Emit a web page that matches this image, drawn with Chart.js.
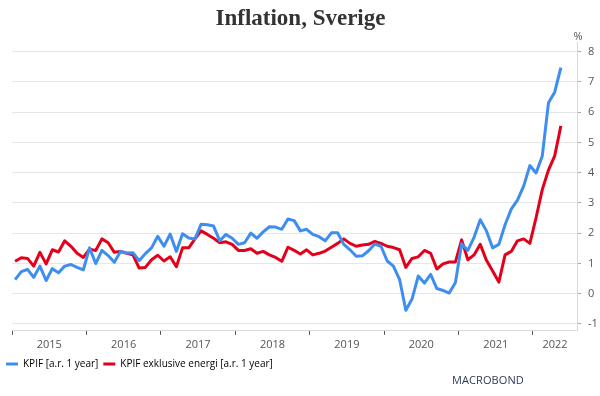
<!DOCTYPE html>
<html>
<head>
<meta charset="utf-8">
<script src="https://cdn.jsdelivr.net/npm/chart.js@4.4.1/dist/chart.umd.min.js"></script>
<style>
  html, body { margin: 0; padding: 0; background: #fff; }
  #wrap { width: 600px; height: 396px; }
</style>
</head>
<body>
<div id="wrap"><canvas id="chart" width="600" height="396"></canvas></div>
<script>
// monthly, Jan 2015 .. May 2022
const years = ['2015', '2016', '2017', '2018', '2019', '2020', '2021', '2022'];
const yTicks = [-1, 0, 1, 2, 3, 4, 5, 6, 7, 8];

const kpif = [
  0.6, 0.85, 0.92, 0.67, 1.02, 0.57, 0.94, 0.81, 1.02, 1.07, 0.98, 0.9,
  1.59, 1.1, 1.51, 1.35, 1.14, 1.48, 1.43, 1.44, 1.19, 1.41, 1.59, 1.95,
  1.64, 2.02, 1.48, 2.03, 1.9, 1.87, 2.33, 2.31, 2.27, 1.81, 2.01, 1.89,
  1.7, 1.75, 2.05, 1.89, 2.09, 2.25, 2.24, 2.17, 2.49, 2.44, 2.12, 2.17,
  2.01, 1.94, 1.81, 2.06, 2.06, 1.7, 1.53, 1.33, 1.34, 1.5, 1.71, 1.64,
  1.18, 1.02, 0.6, -0.36, -0.01, 0.71, 0.49, 0.76, 0.32, 0.26, 0.18, 0.51,
  1.72, 1.51, 1.92, 2.47, 2.12, 1.59, 1.7, 2.31, 2.8, 3.08, 3.52, 4.16,
  3.93, 4.46, 6.12, 6.45, 7.22
];

const kpifExEnergy = [
  1.17, 1.28, 1.26, 1.02, 1.45, 1.09, 1.53, 1.46, 1.81, 1.64, 1.42, 1.29,
  1.55, 1.51, 1.87, 1.75, 1.45, 1.48, 1.42, 1.37, 0.96, 0.98, 1.22, 1.36,
  1.18, 1.31, 1.0, 1.59, 1.59, 1.87, 2.12, 2.01, 1.89, 1.75, 1.78, 1.7,
  1.51, 1.51, 1.56, 1.42, 1.48, 1.37, 1.29, 1.17, 1.61, 1.51, 1.4, 1.53,
  1.37, 1.42, 1.49, 1.61, 1.73, 1.87, 1.73, 1.64, 1.68, 1.7, 1.79, 1.73,
  1.64, 1.6, 1.53, 0.98, 1.26, 1.31, 1.51, 1.42, 0.93, 1.09, 1.15, 1.15,
  1.84, 1.22, 1.37, 1.7, 1.2, 0.87, 0.52, 1.37, 1.48, 1.81, 1.87, 1.73,
  2.53, 3.41, 4.02, 4.46, 5.4
];

const X_MAX = 91.1;
const BLUE = '#3d8ef0';
const RED = '#e4001b';

// x = months since Jan 2015, each point in the middle of its month
const toPoints = arr => arr.map((v, i) => ({ x: i + 0.5, y: v }));

const yearStarts = years.map((y, k) => k * 12);
const yearMids = years.map((y, k) => {
  const end = Math.min((k + 1) * 12, X_MAX);
  return (k * 12 + end) / 2;
});

// unit sign above the right axis + source logo text
const extras = {
  id: 'extras',
  afterDraw(chart) {
    const ctx = chart.ctx;
    const y = chart.scales.y;
    ctx.save();
    ctx.fillStyle = '#555';
    ctx.font = '11px "Open Sans", sans-serif';
    ctx.textAlign = 'center';
    ctx.textBaseline = 'middle';
    ctx.fillText('%', y.left + 1, 37);

    ctx.fillStyle = '#2c3b57';
    ctx.font = '11px "Open Sans", sans-serif';
    ctx.letterSpacing = '0.1px';
    ctx.textAlign = 'left';
    ctx.fillText('MACROBOND', 452, 381);
    ctx.restore();
  }
};

new Chart(document.getElementById('chart'), {
  type: 'line',
  data: {
    datasets: [
      {
        label: 'KPIF [a.r. 1 year]',
        data: toPoints(kpif),
        borderColor: BLUE,
        backgroundColor: BLUE,
        borderWidth: 3,
        borderJoinStyle: 'round',
        pointRadius: 0,
        tension: 0
      },
      {
        label: 'KPIF exklusive energi [a.r. 1 year]',
        data: toPoints(kpifExEnergy),
        borderColor: RED,
        backgroundColor: RED,
        borderWidth: 3,
        borderJoinStyle: 'round',
        pointRadius: 0,
        tension: 0
      }
    ]
  },
  options: {
    responsive: false,
    animation: false,
    layout: { padding: { left: 1, right: 0, top: 0, bottom: 17 } },
    plugins: {
      title: {
        display: true,
        text: 'Inflation, Sverige',
        color: '#333',
        font: { family: '"Liberation Serif", serif', size: 23, weight: 'bold' },
        padding: { top: 5, bottom: 10 }
      },
      legend: {
        position: 'bottom',
        align: 'start',
        labels: {
          boxWidth: 12,
          boxHeight: 3,
          padding: 5,
          color: '#555',
          font: { family: '"Open Sans", sans-serif', size: 10 },
          generateLabels(chart) {
            return chart.data.datasets.map((ds, i) => ({
              text: ds.label,
              fillStyle: ds.borderColor,
              strokeStyle: ds.borderColor,
              lineWidth: 0,
              hidden: false,
              datasetIndex: i
            }));
          }
        }
      },
      tooltip: { enabled: false }
    },
    scales: {
      x: {
        type: 'linear',
        min: 0,
        max: X_MAX,
        afterBuildTicks(scale) {
          const t = [];
          years.forEach((yr, k) => {
            t.push({ value: yearStarts[k] });
            t.push({ value: yearMids[k] });
          });
          scale.ticks = t;
        },
        grid: {
          drawOnChartArea: false,
          drawTicks: true,
          tickLength: 4,
          tickColor: ctx => (ctx.tick && yearStarts.includes(ctx.tick.value)) ? '#555' : 'rgba(0,0,0,0)'
        },
        border: { display: true, color: '#d9d9d9', width: 1 },
        ticks: {
          autoSkip: false,
          maxRotation: 0,
          padding: 3,
          color: '#555',
          font: { family: '"Open Sans", sans-serif', size: 11 },
          callback(value) {
            const k = yearMids.indexOf(value);
            return k >= 0 ? years[k] : '';
          }
        }
      },
      // empty spacer so the plot starts a few px right of the legend
      yL: {
        position: 'left',
        display: true,
        grid: { display: false },
        border: { display: false },
        ticks: { display: false },
        afterFit(scale) { scale.width = 11; }
      },
      y: {
        position: 'right',
        min: -1.23,
        max: 8.3,
        afterBuildTicks(scale) {
          scale.ticks = yTicks.map(v => ({ value: v }));
        },
        afterFit(scale) { scale.width = 23; },
        grid: {
          color: '#e6e6e6',
          lineWidth: 1,
          drawTicks: true,
          tickLength: 4,
          tickColor: '#aaa'
        },
        border: { display: true, color: '#d9d9d9', width: 1 },
        ticks: {
          padding: 7,
          color: '#555',
          font: { family: '"Open Sans", sans-serif', size: 11 },
          align: 'center',
          crossAlign: 'near'
        }
      }
    }
  },
  plugins: [extras]
});
</script>
</body>
</html>
